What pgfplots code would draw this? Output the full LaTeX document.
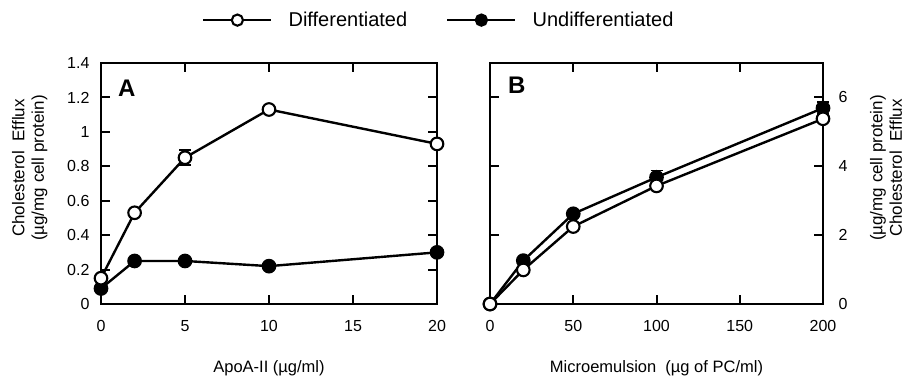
\documentclass[border=0pt]{standalone}
\usepackage{fontspec}
\setmainfont{Liberation Sans}
\usepackage{pgfplots}
\pgfplotsset{compat=1.18}

\pgfplotsset{
  panel/.style={
    scale only axis,
    axis lines=box,
    axis line style={line width=2.8pt, line join=miter},
    tick align=inside,
    major tick length=9pt,
    tick style={line width=2pt, black},
    /pgf/number format/assume math mode=true,
    tick label style={font=\fontsize{16}{19}\selectfont},
    clip=false,
  },
  diffline/.style={black, line width=2.4pt, mark=*, mark size=6.3pt,
    mark options={fill=white, line width=2.1pt, solid}},
  undiffline/.style={black, line width=2.4pt, mark=*, mark size=6.3pt,
    mark options={fill=black, line width=2.1pt, solid}},
  errbar/.style={only marks, mark=none, forget plot,
    error bars/.cd, y dir=both, y explicit,
    error bar style={line width=1.6pt, draw=black},
    error mark options={rotate=90, mark size=6pt, line width=1.6pt, draw=black}},
}

\begin{document}
\begin{tikzpicture}
\path[use as bounding box] (0,0) rectangle (904pt,-376pt);

% ---------------- Panel A ----------------
\begin{axis}[panel,
  at={(101pt,-304pt)}, anchor=south west,
  width=336pt, height=241pt,
  xmin=0, xmax=20, ymin=0, ymax=1.4,
  xtick={0,5,10,15,20},
  ytick={0,0.2,0.4,0.6,0.8,1,1.2,1.4},
  yticklabel style={xshift=-8pt},
  xticklabel style={yshift=-13pt},
  legend columns=2,
  legend style={at={(0.3006,1.178)}, anchor=west, draw=none, fill=none,
    inner sep=0pt, font=\fontsize{20}{24}\selectfont,
    /tikz/every odd column/.append style={column sep=14pt},
    /tikz/every even column/.append style={column sep=37pt}},
  legend image code/.code={\draw[mark repeat=2, mark phase=2, #1, mark size=5.6pt]
    plot coordinates {(0pt,0pt) (34pt,0pt) (68pt,0pt)};},
]
\addlegendimage{diffline}
\addlegendentry{Differentiated}
\addlegendimage{undiffline}
\addlegendentry{Undifferentiated}

\addplot[errbar] coordinates {(5,0.85) +- (0,0.043)};
\addplot[undiffline, forget plot] coordinates {(0,0.09) (2,0.25) (5,0.25) (10,0.22) (20,0.30)};
\addplot[diffline, forget plot] coordinates {(0,0.15) (2,0.53) (5,0.85) (10,1.13) (20,0.93)};
\end{axis}

% ---------------- Panel B ----------------
\begin{axis}[panel,
  at={(490pt,-304pt)}, anchor=south west,
  width=333pt, height=241pt,
  xmin=0, xmax=200, ymin=0, ymax=7,
  xtick={0,50,100,150,200},
  ytick={0,2,4,6},
  yticklabel pos=right,
  yticklabel style={xshift=12pt},
  xticklabel style={yshift=-13pt},
]
\addplot[errbar] coordinates {(100,3.68) +- (0,0.2) (200,5.69) +- (0,0.17)};
\addplot[undiffline] coordinates {(0,0) (20,1.26) (50,2.62) (100,3.68) (200,5.69)};
\addplot[diffline] coordinates {(0,0) (20,0.99) (50,2.25) (100,3.43) (200,5.38)};
\end{axis}

% ---------------- Labels ----------------
\node[anchor=north west, inner sep=0pt, font=\fontsize{24}{28}\selectfont\bfseries] at (118pt,-80pt) {A};
\node[anchor=north west, inner sep=0pt, font=\fontsize{24}{28}\selectfont\bfseries] at (508pt,-77pt) {B};

\node[anchor=base, inner sep=0pt, font=\fontsize{16.5}{19}\selectfont] at (269pt,-372pt) {ApoA-II (µg/ml)};
\node[anchor=base, inner sep=0pt, font=\fontsize{16.5}{19}\selectfont] at (656.5pt,-372pt) {Microemulsion\ \ (µg\ of\ PC/ml)};

\node[rotate=90, align=center, inner sep=0pt, font=\fontsize{17}{19.5}\selectfont] at (29.7pt,-168pt)
  {Cholesterol\ \ Efflux\\(µg/mg cell protein)};
\node[rotate=90, align=center, inner sep=0pt, font=\fontsize{17}{19.5}\selectfont] at (886pt,-168pt)
  {(µg/mg cell protein)\\Cholesterol\ \ Efflux};
\end{tikzpicture}
\end{document}
